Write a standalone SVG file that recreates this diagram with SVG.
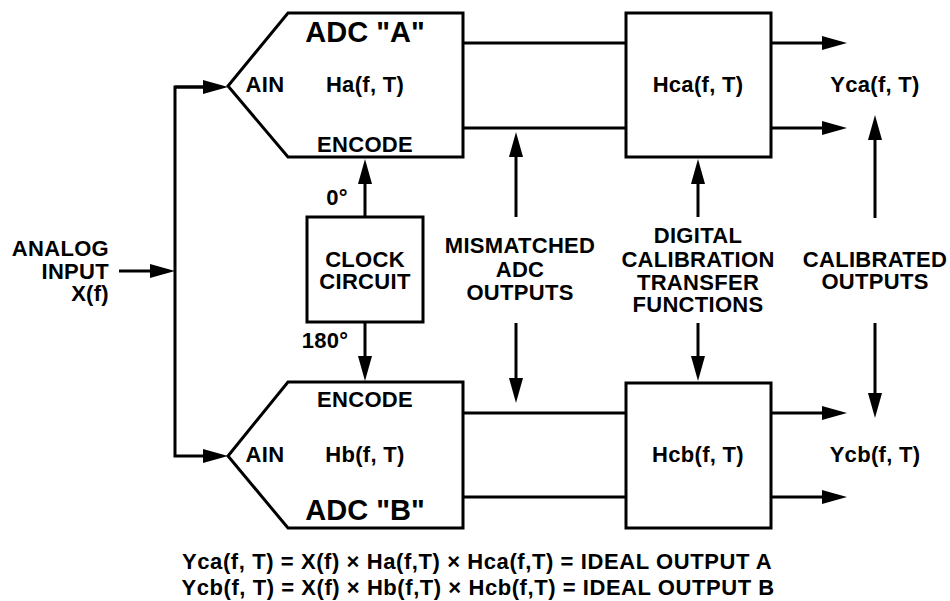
<svg xmlns="http://www.w3.org/2000/svg" width="950" height="601" viewBox="0 0 950 601">
<defs>
<style>
.ln{fill:none;stroke:#000;stroke-width:3;stroke-linejoin:miter}
.bx{fill:#fff;stroke:#000;stroke-width:3}
text{font-family:"Liberation Sans",Arial,Helvetica,sans-serif;font-weight:bold;font-size:22px;letter-spacing:0.3px;fill:#000;text-anchor:middle}
.big{font-size:29px;letter-spacing:0}
.eq{font-size:22px}
.r{text-anchor:end}
</style>
<marker id="ah" viewBox="0 0 25 14" refX="15" refY="7" markerWidth="25" markerHeight="14" markerUnits="userSpaceOnUse" orient="auto">
<path d="M0,0 L25,7 L0,14 Z" fill="#000"/>
</marker>
</defs>
<rect width="950" height="601" fill="#fff"/>

<g id="connectors">
<path class="ln" d="M119,271 H165" marker-end="url(#ah)"/>
<path class="ln" d="M218,87 H175 V456 H218" marker-end="url(#ah)"/>
<path class="ln" d="M175,87 H218" marker-end="url(#ah)"/>
<path class="ln" d="M463,43 H626"/>
<path class="ln" d="M463,128 H626"/>
<path class="ln" d="M463,413 H626"/>
<path class="ln" d="M463,497 H626"/>
<path class="ln" d="M771,43 H837" marker-end="url(#ah)"/>
<path class="ln" d="M771,128 H837" marker-end="url(#ah)"/>
<path class="ln" d="M771,413 H837" marker-end="url(#ah)"/>
<path class="ln" d="M771,497 H837" marker-end="url(#ah)"/>
<path class="ln" d="M365,217 V169" marker-end="url(#ah)"/>
<path class="ln" d="M365,322 V371" marker-end="url(#ah)"/>
<path class="ln" d="M516,217 V142" marker-end="url(#ah)"/>
<path class="ln" d="M516,323 V393" marker-end="url(#ah)"/>
<path class="ln" d="M698,217 V169" marker-end="url(#ah)"/>
<path class="ln" d="M698,323 V371" marker-end="url(#ah)"/>
<path class="ln" d="M875,218 V125" marker-end="url(#ah)"/>
<path class="ln" d="M875,323 V408" marker-end="url(#ah)"/>
</g>

<g id="adcA">
<path class="bx" d="M288,13 H463 V157 H288 L228,86 Z"/>
<text class="big" x="365" y="42">ADC "A"</text>
<text x="265" y="92">AIN</text>
<text x="365" y="92">Ha(f, T)</text>
<text x="365" y="152">ENCODE</text>
</g>

<g id="adcB">
<path class="bx" d="M288,382 H463 V528 H288 L228,456 Z"/>
<text x="365" y="407">ENCODE</text>
<text x="265" y="462">AIN</text>
<text x="365" y="462">Hb(f, T)</text>
<text class="big" x="365" y="520">ADC "B"</text>
</g>

<g id="clock">
<rect class="bx" x="307" y="217" width="116" height="105"/>
<text x="365" y="267">CLOCK</text>
<text x="365" y="289">CIRCUIT</text>
<text x="337" y="205">0°</text>
<text x="325" y="348">180°</text>
</g>

<g id="hca">
<rect class="bx" x="626" y="13" width="145" height="144"/>
<text x="698" y="92">Hca(f, T)</text>
</g>

<g id="hcb">
<rect class="bx" x="626" y="383" width="145" height="145"/>
<text x="698" y="462">Hcb(f, T)</text>
</g>

<g id="labels">
<text class="r" x="109" y="256">ANALOG</text>
<text class="r" x="109" y="279">INPUT</text>
<text class="r" x="109" y="301">X(f)</text>
<text x="520" y="253">MISMATCHED</text>
<text x="520" y="277">ADC</text>
<text x="520" y="300">OUTPUTS</text>
<text x="698" y="243">DIGITAL</text>
<text x="698" y="267">CALIBRATION</text>
<text x="698" y="290">TRANSFER</text>
<text x="698" y="312">FUNCTIONS</text>
<text x="875" y="267">CALIBRATED</text>
<text x="875" y="289">OUTPUTS</text>
<text x="875" y="92">Yca(f, T)</text>
<text x="875" y="462">Ycb(f, T)</text>
<text class="eq" x="477" y="569" textLength="590" lengthAdjust="spacing">Yca(f, T) = X(f) × Ha(f,T) × Hca(f,T) = IDEAL OUTPUT A</text>
<text class="eq" x="478" y="595" textLength="593" lengthAdjust="spacing">Ycb(f, T) = X(f) × Hb(f,T) × Hcb(f,T) = IDEAL OUTPUT B</text>
</g>
</svg>
